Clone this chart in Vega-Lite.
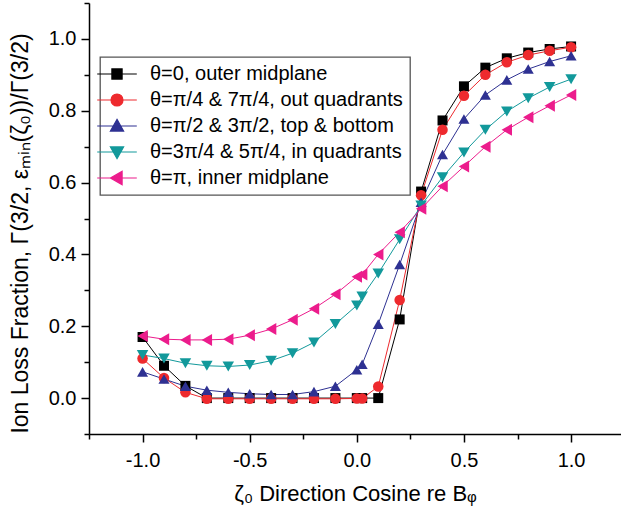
{
  "$schema": "https://vega.github.io/schema/vega-lite/v6.json",
  "width": 532,
  "height": 431,
  "autosize": {"type": "none"},
  "padding": {"left": 89, "top": 3, "right": 0, "bottom": 82},
  "config": {
    "view": {"stroke": null},
    "font": "Liberation Sans",
    "legend": {"strokeWidth": 1.3}
  },
  "data": {"values": [
    {"series": "θ=0, outer midplane", "x": -1.0, "y": 0.17},
    {"series": "θ=0, outer midplane", "x": -0.9, "y": 0.09},
    {"series": "θ=0, outer midplane", "x": -0.8, "y": 0.034},
    {"series": "θ=0, outer midplane", "x": -0.7, "y": 0.0},
    {"series": "θ=0, outer midplane", "x": -0.6, "y": 0.0},
    {"series": "θ=0, outer midplane", "x": -0.5, "y": 0.0},
    {"series": "θ=0, outer midplane", "x": -0.4, "y": 0.0},
    {"series": "θ=0, outer midplane", "x": -0.3, "y": 0.0},
    {"series": "θ=0, outer midplane", "x": -0.2, "y": 0.0},
    {"series": "θ=0, outer midplane", "x": -0.1, "y": 0.0},
    {"series": "θ=0, outer midplane", "x": 0.0, "y": 0.0},
    {"series": "θ=0, outer midplane", "x": 0.025, "y": 0.0},
    {"series": "θ=0, outer midplane", "x": 0.1, "y": 0.0},
    {"series": "θ=0, outer midplane", "x": 0.2, "y": 0.219},
    {"series": "θ=0, outer midplane", "x": 0.3, "y": 0.575},
    {"series": "θ=0, outer midplane", "x": 0.4, "y": 0.773},
    {"series": "θ=0, outer midplane", "x": 0.5, "y": 0.868},
    {"series": "θ=0, outer midplane", "x": 0.6, "y": 0.92},
    {"series": "θ=0, outer midplane", "x": 0.7, "y": 0.946},
    {"series": "θ=0, outer midplane", "x": 0.8, "y": 0.962},
    {"series": "θ=0, outer midplane", "x": 0.9, "y": 0.972},
    {"series": "θ=0, outer midplane", "x": 1.0, "y": 0.979},
    {"series": "θ=π/4 & 7π/4, out quadrants", "x": -1.0, "y": 0.11},
    {"series": "θ=π/4 & 7π/4, out quadrants", "x": -0.9, "y": 0.056},
    {"series": "θ=π/4 & 7π/4, out quadrants", "x": -0.8, "y": 0.016},
    {"series": "θ=π/4 & 7π/4, out quadrants", "x": -0.7, "y": -0.002},
    {"series": "θ=π/4 & 7π/4, out quadrants", "x": -0.6, "y": -0.002},
    {"series": "θ=π/4 & 7π/4, out quadrants", "x": -0.5, "y": -0.002},
    {"series": "θ=π/4 & 7π/4, out quadrants", "x": -0.4, "y": -0.002},
    {"series": "θ=π/4 & 7π/4, out quadrants", "x": -0.3, "y": -0.002},
    {"series": "θ=π/4 & 7π/4, out quadrants", "x": -0.2, "y": -0.002},
    {"series": "θ=π/4 & 7π/4, out quadrants", "x": -0.1, "y": -0.002},
    {"series": "θ=π/4 & 7π/4, out quadrants", "x": 0.0, "y": -0.001},
    {"series": "θ=π/4 & 7π/4, out quadrants", "x": 0.025, "y": -0.001},
    {"series": "θ=π/4 & 7π/4, out quadrants", "x": 0.1, "y": 0.032},
    {"series": "θ=π/4 & 7π/4, out quadrants", "x": 0.2, "y": 0.273},
    {"series": "θ=π/4 & 7π/4, out quadrants", "x": 0.3, "y": 0.565},
    {"series": "θ=π/4 & 7π/4, out quadrants", "x": 0.4, "y": 0.747},
    {"series": "θ=π/4 & 7π/4, out quadrants", "x": 0.5, "y": 0.842},
    {"series": "θ=π/4 & 7π/4, out quadrants", "x": 0.6, "y": 0.9},
    {"series": "θ=π/4 & 7π/4, out quadrants", "x": 0.7, "y": 0.935},
    {"series": "θ=π/4 & 7π/4, out quadrants", "x": 0.8, "y": 0.955},
    {"series": "θ=π/4 & 7π/4, out quadrants", "x": 0.9, "y": 0.967},
    {"series": "θ=π/4 & 7π/4, out quadrants", "x": 1.0, "y": 0.977},
    {"series": "θ=π/2 & 3π/2, top & bottom", "x": -1.0, "y": 0.073},
    {"series": "θ=π/2 & 3π/2, top & bottom", "x": -0.9, "y": 0.053},
    {"series": "θ=π/2 & 3π/2, top & bottom", "x": -0.8, "y": 0.033},
    {"series": "θ=π/2 & 3π/2, top & bottom", "x": -0.7, "y": 0.022},
    {"series": "θ=π/2 & 3π/2, top & bottom", "x": -0.6, "y": 0.016},
    {"series": "θ=π/2 & 3π/2, top & bottom", "x": -0.5, "y": 0.012},
    {"series": "θ=π/2 & 3π/2, top & bottom", "x": -0.4, "y": 0.01},
    {"series": "θ=π/2 & 3π/2, top & bottom", "x": -0.3, "y": 0.01},
    {"series": "θ=π/2 & 3π/2, top & bottom", "x": -0.2, "y": 0.018},
    {"series": "θ=π/2 & 3π/2, top & bottom", "x": -0.1, "y": 0.033},
    {"series": "θ=π/2 & 3π/2, top & bottom", "x": 0.0, "y": 0.079},
    {"series": "θ=π/2 & 3π/2, top & bottom", "x": 0.025, "y": 0.094},
    {"series": "θ=π/2 & 3π/2, top & bottom", "x": 0.1, "y": 0.206},
    {"series": "θ=π/2 & 3π/2, top & bottom", "x": 0.2, "y": 0.372},
    {"series": "θ=π/2 & 3π/2, top & bottom", "x": 0.3, "y": 0.545},
    {"series": "θ=π/2 & 3π/2, top & bottom", "x": 0.4, "y": 0.678},
    {"series": "θ=π/2 & 3π/2, top & bottom", "x": 0.5, "y": 0.777},
    {"series": "θ=π/2 & 3π/2, top & bottom", "x": 0.6, "y": 0.844},
    {"series": "θ=π/2 & 3π/2, top & bottom", "x": 0.7, "y": 0.886},
    {"series": "θ=π/2 & 3π/2, top & bottom", "x": 0.8, "y": 0.916},
    {"series": "θ=π/2 & 3π/2, top & bottom", "x": 0.9, "y": 0.937},
    {"series": "θ=π/2 & 3π/2, top & bottom", "x": 1.0, "y": 0.953},
    {"series": "θ=3π/4 & 5π/4, in quadrants", "x": -1.0, "y": 0.12},
    {"series": "θ=3π/4 & 5π/4, in quadrants", "x": -0.9, "y": 0.11},
    {"series": "θ=3π/4 & 5π/4, in quadrants", "x": -0.8, "y": 0.097},
    {"series": "θ=3π/4 & 5π/4, in quadrants", "x": -0.7, "y": 0.09},
    {"series": "θ=3π/4 & 5π/4, in quadrants", "x": -0.6, "y": 0.088},
    {"series": "θ=3π/4 & 5π/4, in quadrants", "x": -0.5, "y": 0.092},
    {"series": "θ=3π/4 & 5π/4, in quadrants", "x": -0.4, "y": 0.104},
    {"series": "θ=3π/4 & 5π/4, in quadrants", "x": -0.3, "y": 0.125},
    {"series": "θ=3π/4 & 5π/4, in quadrants", "x": -0.2, "y": 0.155},
    {"series": "θ=3π/4 & 5π/4, in quadrants", "x": -0.1, "y": 0.206},
    {"series": "θ=3π/4 & 5π/4, in quadrants", "x": 0.0, "y": 0.258},
    {"series": "θ=3π/4 & 5π/4, in quadrants", "x": 0.025, "y": 0.283},
    {"series": "θ=3π/4 & 5π/4, in quadrants", "x": 0.1, "y": 0.347},
    {"series": "θ=3π/4 & 5π/4, in quadrants", "x": 0.2, "y": 0.442},
    {"series": "θ=3π/4 & 5π/4, in quadrants", "x": 0.3, "y": 0.536},
    {"series": "θ=3π/4 & 5π/4, in quadrants", "x": 0.4, "y": 0.615},
    {"series": "θ=3π/4 & 5π/4, in quadrants", "x": 0.5, "y": 0.684},
    {"series": "θ=3π/4 & 5π/4, in quadrants", "x": 0.6, "y": 0.747},
    {"series": "θ=3π/4 & 5π/4, in quadrants", "x": 0.7, "y": 0.798},
    {"series": "θ=3π/4 & 5π/4, in quadrants", "x": 0.8, "y": 0.835},
    {"series": "θ=3π/4 & 5π/4, in quadrants", "x": 0.9, "y": 0.866},
    {"series": "θ=3π/4 & 5π/4, in quadrants", "x": 1.0, "y": 0.888},
    {"series": "θ=π, inner midplane", "x": -1.0, "y": 0.173},
    {"series": "θ=π, inner midplane", "x": -0.9, "y": 0.164},
    {"series": "θ=π, inner midplane", "x": -0.8, "y": 0.162},
    {"series": "θ=π, inner midplane", "x": -0.7, "y": 0.162},
    {"series": "θ=π, inner midplane", "x": -0.6, "y": 0.164},
    {"series": "θ=π, inner midplane", "x": -0.5, "y": 0.175},
    {"series": "θ=π, inner midplane", "x": -0.4, "y": 0.192},
    {"series": "θ=π, inner midplane", "x": -0.3, "y": 0.218},
    {"series": "θ=π, inner midplane", "x": -0.2, "y": 0.249},
    {"series": "θ=π, inner midplane", "x": -0.1, "y": 0.289},
    {"series": "θ=π, inner midplane", "x": 0.0, "y": 0.338},
    {"series": "θ=π, inner midplane", "x": 0.025, "y": 0.344},
    {"series": "θ=π, inner midplane", "x": 0.1, "y": 0.4},
    {"series": "θ=π, inner midplane", "x": 0.2, "y": 0.462},
    {"series": "θ=π, inner midplane", "x": 0.3, "y": 0.527},
    {"series": "θ=π, inner midplane", "x": 0.4, "y": 0.59},
    {"series": "θ=π, inner midplane", "x": 0.5, "y": 0.645},
    {"series": "θ=π, inner midplane", "x": 0.6, "y": 0.7},
    {"series": "θ=π, inner midplane", "x": 0.7, "y": 0.747},
    {"series": "θ=π, inner midplane", "x": 0.8, "y": 0.782},
    {"series": "θ=π, inner midplane", "x": 0.9, "y": 0.814},
    {"series": "θ=π, inner midplane", "x": 1.0, "y": 0.844}
  ]},
  "encoding": {
    "x": {
      "field": "x", "type": "quantitative",
      "scale": {"domain": [-1.25, 1.233], "nice": false, "zero": false},
      "axis": {
        "title": "ζ₀ Direction Cosine re Bᵩ",
        "values": [-1.25, -1, -0.75, -0.5, -0.25, 0, 0.25, 0.5, 0.75, 1],
        "labelExpr": "abs(datum.value*2-round(datum.value*2))<0.001 ? (datum.value<0 ? '-' : '') + format(abs(datum.value), '.1f') : ''",
        "tickSize": {"condition": {"test": "abs(datum.value*2-round(datum.value*2))<0.001", "value": 8}, "value": 5},
        "labelOverlap": false, "labelFlush": false, "grid": false,
        "domainColor": "black", "domainWidth": 1.5, "tickColor": "black", "tickWidth": 1.5,
        "labelColor": "black", "labelFontSize": 20, "labelFont": "Liberation Sans", "labelPadding": 8,
        "titleFontSize": 22, "titleFontWeight": "normal", "titleColor": "black", "titleFont": "Liberation Sans", "titlePadding": 13
      }
    },
    "y": {
      "field": "y", "type": "quantitative",
      "scale": {"domain": [-0.1, 1.1], "nice": false, "zero": false},
      "axis": {
        "title": "Ion Loss Fraction, Γ(3/2, εₘᵢₙ(ζ₀))/Γ(3/2)",
        "values": [-0.1, 0, 0.1, 0.2, 0.3, 0.4, 0.5, 0.6, 0.7, 0.8, 0.9, 1.0, 1.1],
        "labelExpr": "abs(datum.value*5-round(datum.value*5))<0.001 ? format(datum.value, '.1f') : ''",
        "tickSize": {"condition": {"test": "abs(datum.value*5-round(datum.value*5))<0.001", "value": 8}, "value": 5},
        "labelOverlap": false, "labelFlush": false, "grid": false,
        "domainColor": "black", "domainWidth": 1.5, "tickColor": "black", "tickWidth": 1.5,
        "labelColor": "black", "labelFontSize": 20, "labelFont": "Liberation Sans", "labelPadding": 5,
        "titleFontSize": 23, "titleFontWeight": "normal", "titleColor": "black", "titleFont": "Liberation Sans", "titlePadding": 16, "titleY": 230
      }
    }
  },
  "layer": [
    {
      "mark": {"type": "line", "strokeWidth": 1},
      "encoding": {
        "color": {"field": "series", "type": "nominal", "legend": null,
          "scale": {"domain": ["θ=0, outer midplane", "θ=π/4 & 7π/4, out quadrants", "θ=π/2 & 3π/2, top & bottom", "θ=3π/4 & 5π/4, in quadrants", "θ=π, inner midplane"],
                    "range": ["#000000", "#ee2a2e", "#2e3192", "#12999b", "#ec1c8c"]}}
      }
    },
    {
      "mark": {"type": "point", "filled": true, "opacity": 1},
      "encoding": {
        "color": {"field": "series", "type": "nominal", "legend": null},
        "shape": {"field": "series", "type": "nominal", "legend": null,
          "scale": {"domain": ["θ=0, outer midplane", "θ=π/4 & 7π/4, out quadrants", "θ=π/2 & 3π/2, top & bottom", "θ=3π/4 & 5π/4, in quadrants", "θ=π, inner midplane"],
                    "range": ["square", "circle", "triangle-up", "triangle-down", "triangle-left"]}},
        "size": {"field": "series", "type": "nominal", "legend": null,
          "scale": {"domain": ["θ=0, outer midplane", "θ=π/4 & 7π/4, out quadrants", "θ=π/2 & 3π/2, top & bottom", "θ=3π/4 & 5π/4, in quadrants", "θ=π, inner midplane"],
                    "range": [100, 144, 170, 170, 170]}}
      }
    },
    {
      "transform": [{"filter": "false"}],
      "mark": {"type": "point", "filled": true, "size": 144, "strokeWidth": 1.2},
      "encoding": {
        "fill": {"field": "series", "type": "nominal",
          "scale": {"domain": ["θ=0, outer midplane", "θ=π/4 & 7π/4, out quadrants", "θ=π/2 & 3π/2, top & bottom", "θ=3π/4 & 5π/4, in quadrants", "θ=π, inner midplane"],
                    "range": ["#000000", "#ee2a2e", "#2e3192", "#12999b", "#ec1c8c"]},
          "legend": {"title": null, "orient": "none", "legendX": 11, "legendY": 54, "labelFontSize": 20, "labelFont": "Liberation Sans", "labelColor": "black", "labelOffset": 23, "rowPadding": 6, "padding": 7, "strokeColor": "#555555", "symbolStrokeWidth": 1.2, "symbolSize": 144, "symbolOpacity": 1, "labelLimit": 400}},
        "stroke": {"field": "series", "type": "nominal",
          "scale": {"domain": ["θ=0, outer midplane", "θ=π/4 & 7π/4, out quadrants", "θ=π/2 & 3π/2, top & bottom", "θ=3π/4 & 5π/4, in quadrants", "θ=π, inner midplane"],
                    "range": ["#000000", "#ee2a2e", "#2e3192", "#12999b", "#ec1c8c"]},
          "legend": {"title": null, "orient": "none", "legendX": 11, "legendY": 54, "labelFontSize": 20, "labelFont": "Liberation Sans", "labelColor": "black", "labelOffset": 23, "rowPadding": 6, "padding": 7, "strokeColor": "#555555", "symbolStrokeWidth": 1.2, "symbolSize": 144, "symbolOpacity": 1, "labelLimit": 400}},
        "shape": {"field": "series", "type": "nominal",
          "scale": {"domain": ["θ=0, outer midplane", "θ=π/4 & 7π/4, out quadrants", "θ=π/2 & 3π/2, top & bottom", "θ=3π/4 & 5π/4, in quadrants", "θ=π, inner midplane"],
                    "range": [
                      "M-3.3,0H3.3M-0.85,-0.85H0.85V0.85H-0.85Z",
                      "M-3.3,0H3.3M-1,0A1,1,0,1,0,1,0A1,1,0,1,0,-1,0Z",
                      "M-3.3,0H3.3M0,-1.1L1.1,0.85H-1.1Z",
                      "M-3.3,0H3.3M0,1.1L1.1,-0.85H-1.1Z",
                      "M-3.3,0H3.3M-1.1,0L0.85,-1.1V1.1Z"
                    ]},
          "legend": {"title": null, "orient": "none", "legendX": 11, "legendY": 54, "labelFontSize": 20, "labelFont": "Liberation Sans", "labelColor": "black", "labelOffset": 23, "rowPadding": 6, "padding": 7, "strokeColor": "#555555", "symbolStrokeWidth": 1.2, "symbolSize": 144, "symbolOpacity": 1, "labelLimit": 400}}
      }
    },
    {
      "data": {"values": [{}]},
      "mark": {"type": "text", "text": "co-current", "fontSize": 20, "font": "Liberation Sans", "align": "center", "baseline": "middle", "color": "black"},
      "encoding": {"x": {"datum": -0.835, "type": "quantitative"}, "y": {"datum": 0.294, "type": "quantitative"}}
    },
    {
      "data": {"values": [{}]},
      "mark": {"type": "text", "text": "ctr-current", "fontSize": 20, "font": "Liberation Sans", "align": "center", "baseline": "middle", "color": "black"},
      "encoding": {"x": {"datum": 0.648, "type": "quantitative"}, "y": {"datum": 0.294, "type": "quantitative"}}
    },
    {
      "data": {"values": [{}]},
      "mark": {"type": "text", "text": "launch angles on ρ=0.983 flux surface at", "fontSize": 20, "font": "Liberation Sans", "align": "left", "baseline": "alphabetic", "color": "black"},
      "encoding": {"x": {"datum": -1.182, "type": "quantitative"}, "y": {"datum": 0.964, "type": "quantitative"}}
    }
  ],
  "resolve": {"scale": {"shape": "independent", "fill": "independent", "stroke": "independent", "size": "independent"}}
}
